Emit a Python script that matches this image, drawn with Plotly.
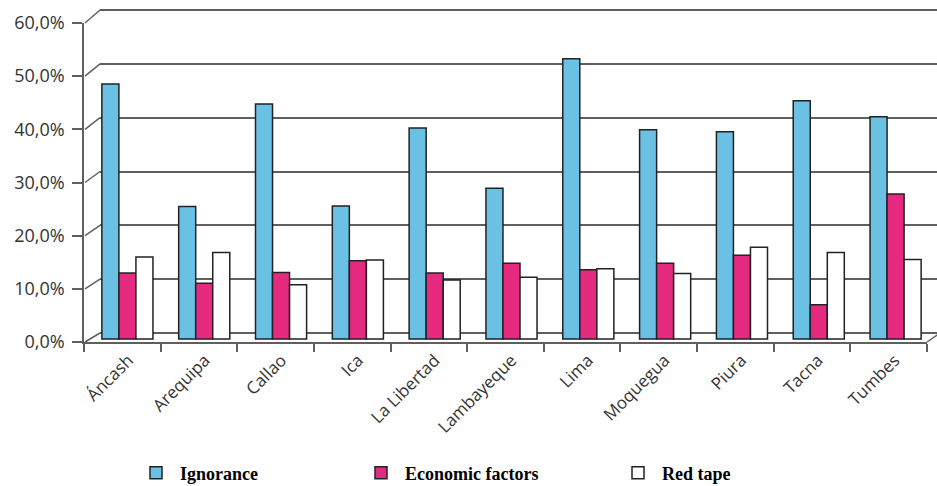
import plotly.graph_objects as go

regions = ["Áncash", "Arequipa", "Callao", "Ica", "La Libertad", "Lambayeque",
           "Lima", "Moquegua", "Piura", "Tacna", "Tumbes"]
ignorance = [47.5, 24.7, 43.8, 24.8, 39.3, 28.1, 52.2, 39.0, 38.6, 44.4, 41.4]
economic = [12.3, 10.4, 12.4, 14.6, 12.3, 14.1, 12.9, 14.1, 15.6, 6.4, 27.0]
red_tape = [15.3, 16.1, 10.1, 14.7, 11.0, 11.5, 13.1, 12.2, 17.1, 16.1, 14.8]
y_ticks = [0, 10, 20, 30, 40, 50, 60]
y_labels = ["0,0%", "10,0%", "20,0%", "30,0%", "40,0%", "50,0%", "60,0%"]

W, H = 937, 486
def fx(p):
    return p / W
def fy(p):
    return 1 - p / H

TOP, BOT = 5, 345  # pixel extent of the shared plot height

def rng(y0, y60):
    per = (y0 - y60) / 60.0
    return [-(BOT - y0) / per, (y0 - TOP) / per]

back0, back60 = 333, 10      # back wall
bar0, bar60 = 339, 17        # bars
front0, front60 = 342, 23    # front axis

dark = "#222222"
grid = "#5f5f5f"
txt = "#333333"

fig = go.Figure()

# subplot 1: back wall grid
fig.add_trace(go.Scatter(x=[None], y=[None], xaxis="x", yaxis="y",
                         showlegend=False, hoverinfo="skip"))

# subplot 2: bars
series = [("Ignorance", ignorance, "#6BC1E4", "legend"),
          ("Economic factors", economic, "#E62A80", "legend2"),
          ("Red tape", red_tape, "#FFFFFF", "legend3")]
for name, vals, col, lg in series:
    fig.add_trace(go.Bar(x=regions, y=vals, name=name, xaxis="x2", yaxis="y2",
                         marker=dict(color=col, line=dict(color=dark, width=1.5)),
                         legend=lg))

# subplot 3: front axis
fig.add_trace(go.Scatter(x=regions, y=ignorance, xaxis="x3", yaxis="y3",
                         mode="markers", marker=dict(opacity=0),
                         showlegend=False, hoverinfo="skip"))

shapes = []
for v in y_ticks:
    yf = front0 - v * (front0 - front60) / 60
    yb = back0 - v * (back0 - back60) / 60
    shapes.append(dict(type="line", xref="paper", yref="paper",
                       x0=fx(85), y0=fy(yf), x1=fx(100), y1=fy(yb),
                       line=dict(color=grid, width=1.5), layer="below"))
shapes.append(dict(type="line", xref="paper", yref="paper",
                   x0=fx(927), y0=fy(front0), x1=fx(940), y1=fy(back0),
                   line=dict(color=grid, width=1.5), layer="below"))

ydom = [fy(BOT), fy(TOP)]
xfont = dict(family="Open Sans", size=17, color=txt)
yfont = dict(family="Open Sans", size=18, color=txt)
fig.update_layout(
    width=W, height=H,
    template="none",
    margin=dict(l=0, r=0, t=0, b=0, autoexpand=False),
    paper_bgcolor="white", plot_bgcolor="rgba(0,0,0,0)",
    barmode="group", bargap=0.335, bargroupgap=0,
    shapes=shapes,
    xaxis=dict(domain=[fx(100), 1], range=[0, 1], visible=False, automargin=False,
               anchor="y"),
    yaxis=dict(domain=ydom, range=rng(back0, back60), tickvals=y_ticks,
               showgrid=True, gridcolor=grid, gridwidth=1.5, zeroline=False,
               showticklabels=False, ticks="", showline=False, automargin=False,
               anchor="x"),
    xaxis2=dict(domain=[fx(89), fx(934)], type="category", range=[-0.5, 10.5],
                visible=False, automargin=False, anchor="y2"),
    yaxis2=dict(domain=ydom, range=rng(bar0, bar60), visible=False,
                automargin=False, anchor="x2"),
    xaxis3=dict(domain=[fx(84), fx(927)], type="category", range=[-0.5, 10.5],
                tickson="boundaries", ticks="outside", ticklen=8, tickwidth=1.5,
                tickcolor=grid, showline=True, linecolor=grid, linewidth=1.5,
                showgrid=False, zeroline=False, tickangle=-45,
                ticklabelshift=6,
                tickfont=xfont, automargin=False, anchor="y3"),
    yaxis3=dict(domain=[fy(front0), fy(front60)], range=[0, 60], tickvals=y_ticks,
                ticktext=y_labels, ticks="outside", ticklen=10,
                tickwidth=1.5, tickcolor=grid, showline=True, linecolor=grid,
                linewidth=1.5, showgrid=False, zeroline=False,
                ticklabelstandoff=4,
                tickfont=yfont, automargin=False, anchor="x3"),
)

lfont = dict(family="Liberation Serif", size=18, color="black", weight="bold")
for key, xp in [("legend", 132), ("legend2", 357), ("legend3", 614)]:
    fig.update_layout({key: dict(x=fx(xp), y=fy(473), xanchor="left", yanchor="middle",
                                 orientation="h", font=lfont, bgcolor="rgba(0,0,0,0)",
                                 borderwidth=0, itemwidth=38)})

fig.write_html("out.html")
